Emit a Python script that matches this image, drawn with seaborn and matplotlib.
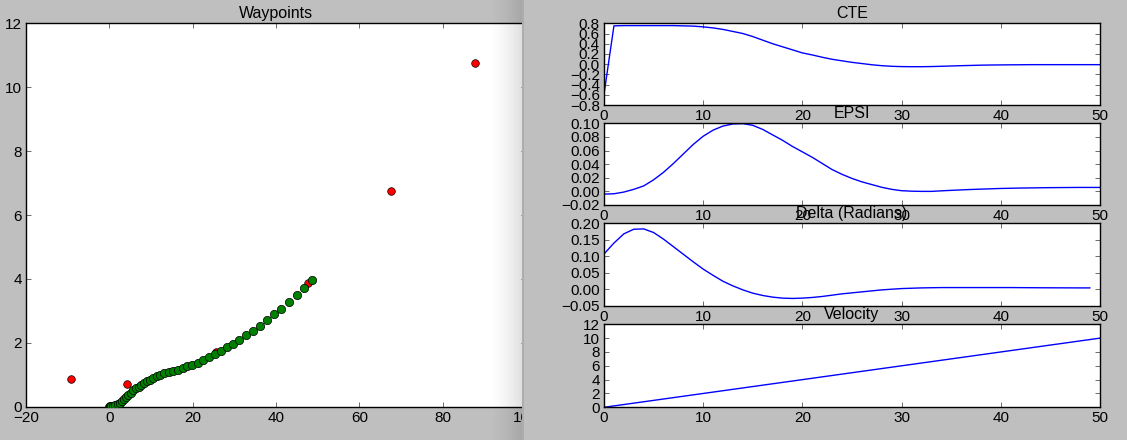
import numpy as np
import pandas as pd
import matplotlib
matplotlib.use("Agg")
import matplotlib.pyplot as plt
from matplotlib.patches import Rectangle
import seaborn as sns

# ---------------- data ----------------
waypoints_x = [-9.3, 4.15, 25.6, 47.7, 67.6, 87.7]
waypoints_y = [0.87, 0.71, 1.72, 3.87, 6.75, 10.77]

traj_x = [0.0, 0.04, 0.12, 0.25, 0.45, 0.78, 1.42, 1.98, 2.54, 3.02, 3.50, 3.98,
          4.54, 5.10, 5.74, 6.38, 7.02, 7.66, 8.38, 9.10, 9.82, 10.54, 11.34,
          12.22, 13.18, 14.22, 15.34, 16.46, 17.58, 18.70, 19.90, 21.18, 22.46,
          23.82, 25.34, 26.70, 28.14, 29.58, 31.02, 32.78, 34.46, 36.14, 37.82,
          39.42, 41.10, 43.02, 45.02, 46.70, 48.62]
traj_y = [0.0, 0.0, 0.0, 0.01, 0.02, 0.03, 0.05, 0.08, 0.12, 0.17, 0.24, 0.31,
          0.37, 0.44, 0.51, 0.57, 0.62, 0.68, 0.74, 0.79, 0.85, 0.91, 0.95,
          1.00, 1.04, 1.08, 1.12, 1.16, 1.22, 1.27, 1.32, 1.37, 1.46,
          1.54, 1.65, 1.74, 1.86, 1.97, 2.09, 2.24, 2.37, 2.52, 2.71,
          2.89, 3.06, 3.27, 3.50, 3.72, 3.96]

cte = [-0.59, 0.75, 0.755, 0.755, 0.755, 0.755, 0.755, 0.755, 0.75, 0.745,
       0.73, 0.71, 0.68, 0.64, 0.60, 0.54, 0.47, 0.40, 0.34, 0.28,
       0.22, 0.18, 0.135, 0.095, 0.065, 0.035, 0.012, -0.012, -0.03, -0.042,
       -0.048, -0.05, -0.05, -0.047, -0.042, -0.036, -0.03, -0.025, -0.02, -0.017,
       -0.015, -0.013, -0.012, -0.01, -0.01, -0.01, -0.01, -0.01, -0.01, -0.01,
       -0.01]
epsi = [-0.004, -0.0035, -0.001, 0.003, 0.008, 0.017, 0.028, 0.041, 0.055, 0.069,
        0.081, 0.090, 0.096, 0.099, 0.0995, 0.097, 0.091, 0.083, 0.075, 0.066,
        0.058, 0.050, 0.041, 0.032, 0.025, 0.019, 0.014, 0.010, 0.006, 0.003,
        0.001, 0.0003, 0.0, 0.0, 0.0008, 0.0015, 0.0022, 0.0028, 0.0033, 0.0038,
        0.0043, 0.0046, 0.0049, 0.0051, 0.0053, 0.0055, 0.0056, 0.0057, 0.0058, 0.0058,
        0.0058]
delta = [0.107, 0.14, 0.168, 0.182, 0.183, 0.172, 0.152, 0.129, 0.106, 0.083,
         0.061, 0.042, 0.024, 0.010, -0.002, -0.012, -0.019, -0.024, -0.027, -0.028,
         -0.027, -0.025, -0.022, -0.018, -0.014, -0.011, -0.008, -0.005, -0.002, 0.0,
         0.002, 0.003, 0.004, 0.0045, 0.005, 0.005, 0.005, 0.005, 0.005, 0.005,
         0.005, 0.005, 0.0048, 0.0046, 0.0044, 0.0043, 0.0042, 0.0041, 0.004, 0.004]
velocity = [0.0, 0.2, 0.4, 0.6, 0.8, 1.0, 1.2, 1.4, 1.6, 1.8,
            2.0, 2.2, 2.4, 2.6, 2.8, 3.0, 3.2, 3.4, 3.6, 3.8,
            4.0, 4.2, 4.4, 4.6, 4.8, 5.0, 5.2, 5.4, 5.6, 5.8,
            6.0, 6.2, 6.4, 6.6, 6.8, 7.0, 7.2, 7.4, 7.6, 7.8,
            8.0, 8.2, 8.4, 8.6, 8.8, 9.0, 9.2, 9.4, 9.6, 9.8,
            10.0]

titles = ["CTE", "EPSI", "Delta (Radians)", "Velocity"]
series = [cte, epsi, delta, velocity]
ylims = [(-0.8, 0.8), (-0.02, 0.10), (-0.05, 0.20), (0, 12)]
ysteps = [0.2, 0.02, 0.05, 2]

# ---------------- style ----------------
sns.set_style("white")
plt.rcParams["font.family"] = ["Liberation Sans", "DejaVu Sans"]
plt.rcParams["axes.unicode_minus"] = True
plt.rcParams["text.color"] = "black"
plt.rcParams["axes.titlecolor"] = "black"
FS = 11
BG = "#bfbfbf"

W, H = 1127, 440
fig = plt.figure(figsize=(W / 100, H / 100), dpi=100, facecolor=BG)


def box(left, top, right, bottom):
    return [left / W, 1 - bottom / H, (right - left) / W, (bottom - top) / H]


def style_axes(ax):
    ax.set_facecolor("white")
    for s in ax.spines.values():
        s.set_visible(True)
        s.set_color("black")
        s.set_linewidth(1.0)
    ax.tick_params(direction="in", length=3.5, width=0.6, color="#555555",
                   top=True, right=True, bottom=True, left=True,
                   labelsize=FS, labelcolor="black", pad=3)
    ax.set_xlabel("")
    ax.set_ylabel("")


# Left window: waypoints
axL = fig.add_axes(box(26, 23.3, 526, 406.7))
sns.scatterplot(x=traj_x, y=traj_y, ax=axL, color="#008000", s=36,
                edgecolor="black", linewidth=0.5, zorder=3)
sns.scatterplot(x=waypoints_x, y=waypoints_y, ax=axL, color="#ff0000", s=30,
                edgecolor="black", linewidth=0.5, zorder=2)
axL.set_xlim(-20, 100)
axL.set_ylim(0, 12)
axL.set_xticks(np.arange(-20, 101, 20))
axL.set_yticks(np.arange(0, 13, 2))
style_axes(axL)
axL.set_title("Waypoints", fontsize=FS + 0.5, pad=4, color="black")

# Window edge / shadow of the right window
shadow_ax = fig.add_axes(box(488, 0, 523, 440))
shadow_ax.set_zorder(1)
grad = np.zeros((1, 64, 4))
grad[..., 3] = np.linspace(0, 0.13, 64) ** 1.5 / 0.13 ** 0.5
shadow_ax.imshow(grad, aspect="auto", extent=[0, 1, 0, 1])
shadow_ax.axis("off")
shadow_ax.patch.set_alpha(0)

cover = Rectangle((523 / W, 0), 1 - 523 / W, 1, transform=fig.transFigure,
                  facecolor=BG, edgecolor="none", zorder=1.5)
fig.add_artist(cover)
edge = Rectangle((522 / W, 0), 2 / W, 1, transform=fig.transFigure,
                 facecolor="#adadad", edgecolor="none", zorder=1.6)
fig.add_artist(edge)

# Right window: 4 stacked plots
rows = [(23.3, 105), (123.3, 205), (223.3, 305.7), (324.3, 407.3)]
for (top, bottom), title, vals, yl, st in zip(rows, titles, series, ylims, ysteps):
    ax = fig.add_axes(box(604, top, 1100, bottom))
    ax.set_zorder(2)
    df = pd.DataFrame({"step": list(range(len(vals))), "value": vals})
    sns.lineplot(data=df, x="step", y="value", ax=ax, color="#0000ff", linewidth=1.0)
    ax.set_xlim(0, 50)
    ax.set_ylim(*yl)
    ax.set_xticks(np.arange(0, 51, 10))
    ax.set_yticks(np.arange(yl[0], yl[1] + st / 2, st))
    style_axes(ax)
    ax.set_title(title, fontsize=FS + 0.5, pad=4, color="black")

fig.savefig("out.png", dpi=100, facecolor=BG)
